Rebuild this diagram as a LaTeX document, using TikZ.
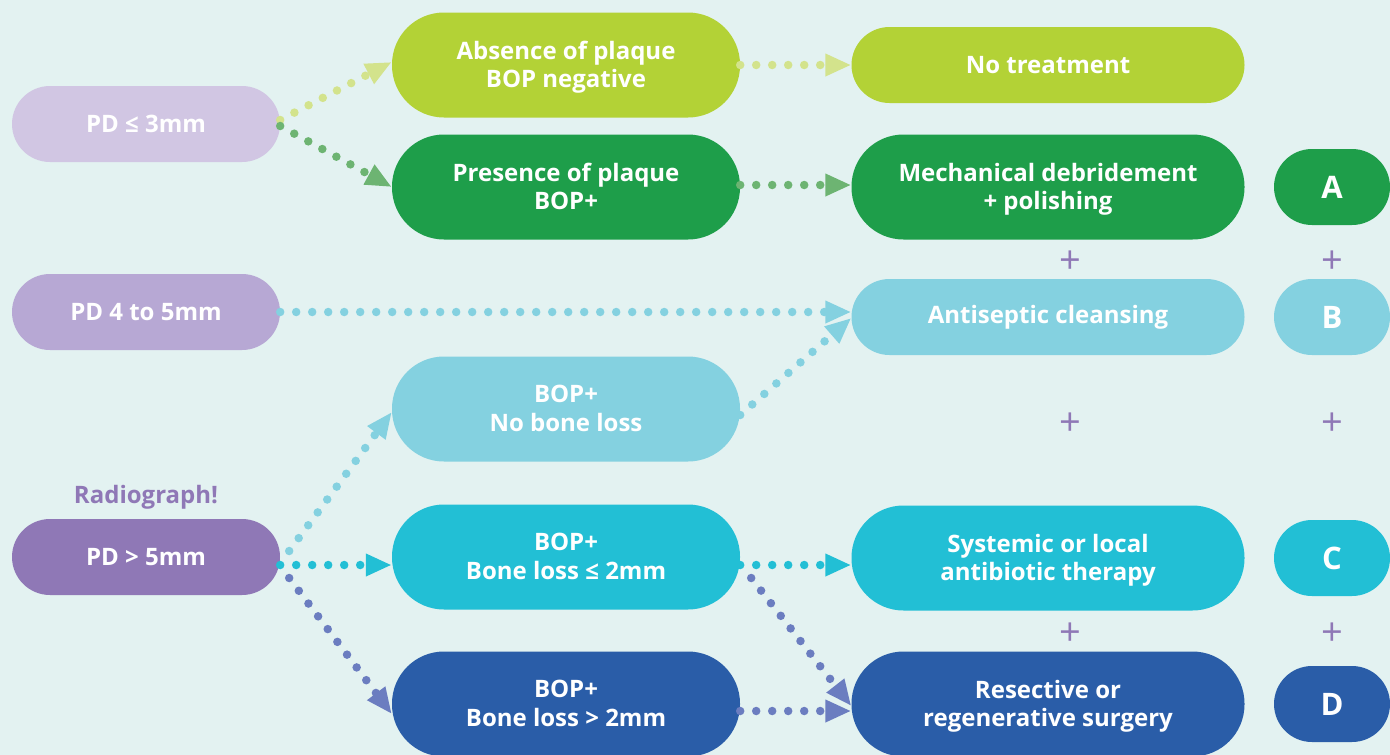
\documentclass[tikz,border=0pt]{standalone}
\usepackage{fontspec}
\setmainfont{Open Sans}
\usetikzlibrary{arrows.meta,calc}
\definecolor{bg}{HTML}{E3F2F1}
\definecolor{lavA}{HTML}{D1C6E3}
\definecolor{lavB}{HTML}{B7A8D4}
\definecolor{lavC}{HTML}{8F78B6}
\definecolor{lime}{HTML}{B3D236}
\definecolor{limeL}{HTML}{D3E38C}
\definecolor{grn}{HTML}{1E9E4A}
\definecolor{grnL}{HTML}{6DB472}
\definecolor{ltblue}{HTML}{84D1E0}
\definecolor{cyanB}{HTML}{22BFD5}
\definecolor{dkblue}{HTML}{2A5DA8}
\definecolor{dkblueL}{HTML}{6B7DC0}
\tikzset{
  pill/.style={rectangle, rounded corners=#1, text=white, align=center,
    font=\fontsize{24}{28.5}\selectfont\bfseries, inner sep=0pt},
  pillS/.style={pill=38pt, minimum height=76pt},
  pillL/.style={pill=52pt, minimum height=105pt, text depth=1pt},
  letter/.style={pillS, minimum width=116pt, font=\fontsize{31}{31}\selectfont\bfseries},
  arr/.style={line width=8.5pt, line cap=round, dash pattern=on 0pt off 16pt,
    -{Triangle[length=26pt,width=21pt]}},
  plus/.style={text=lavC, font=\fontsize{38}{38}\selectfont, inner sep=0pt},
}
\begin{document}
\begin{tikzpicture}[x=1pt,y=-1pt]
\fill[bg] (0,0) rectangle (1390,755);
\useasboundingbox (0,0) rectangle (1390,755);
% left column
\node[pillS, fill=lavA, minimum width=268pt] (pd3) at (146,124) {PD ≤ 3mm};
\node[pillS, fill=lavB, minimum width=268pt] (pd45) at (146,312) {PD 4 to 5mm};
\node[pillS, fill=lavC, minimum width=268pt] (pd5) at (146,557) {PD > 5mm};
\node[text=lavC, font=\fontsize{24}{28}\selectfont\bfseries] (radio) at (146,497) {Radiograph!};
% middle column
\node[pillL, fill=lime, minimum width=348pt] (abs) at (566,65) {Absence of plaque\\BOP negative};
\node[pillL, fill=grn, minimum width=348pt] (pres) at (566,187) {Presence of plaque\\BOP+};
\node[pillL, fill=ltblue, minimum width=348pt] (nob) at (566,409) {BOP+\\No bone loss};
\node[pillL, fill=cyanB, minimum width=348pt] (bl2) at (566,557) {BOP+\\Bone loss ≤ 2mm};
\node[pillL, fill=dkblue, minimum width=348pt] (bl3) at (566,704) {BOP+\\Bone loss > 2mm};
% right column
\node[pillS, fill=lime, minimum width=393pt] (notr) at (1048,65) {No treatment};
\node[pillL, fill=grn, minimum width=393pt] (mech) at (1048,187) {Mechanical debridement\\+ polishing};
\node[pillS, fill=ltblue, minimum width=393pt] (anti) at (1048,317) {Antiseptic cleansing};
\node[pillL, fill=cyanB, minimum width=393pt] (sys) at (1048,558) {Systemic or local\\antibiotic therapy};
\node[pillL, fill=dkblue, minimum width=393pt] (res) at (1048,704) {Resective or\\regenerative surgery};
% letters
\node[letter, fill=grn] (A) at (1332,187) {A};
\node[letter, fill=ltblue] (B) at (1332,317) {B};
\node[letter, fill=cyanB] (C) at (1332,558) {C};
\node[letter, fill=dkblue] (D) at (1332,704) {D};
% plus signs
\node[plus] (p1) at (1070,262) {+};
\node[plus] (p2) at (1332,262) {+};
\node[plus] (p3) at (1070,424) {+};
\node[plus] (p4) at (1332,424) {+};
\node[plus] (p5) at (1070,634) {+};
\node[plus] (p6) at (1332,634) {+};
% connectors
\draw[arr, limeL] ([yshift=4pt]pd3.east) -- ([yshift=3pt]abs.west);
\draw[arr, grnL] ([yshift=-2pt]pd3.east) -- (pres.west);
\draw[arr, limeL] (abs.east) -- (notr.west);
\draw[arr, grnL] ([yshift=2pt]pres.east) -- ([yshift=2pt]mech.west);
\draw[arr, ltblue] (pd45.east) -- (pd45.east -| anti.west);
\draw[arr, ltblue] ([yshift=-6pt]nob.east) -- ([yshift=-1pt]anti.west);
\draw[arr, ltblue] ([xshift=9pt,yshift=6pt]pd5.east) -- ([yshift=-3pt]nob.west);
\draw[arr, cyanB] ([yshift=-8pt]pd5.east) -- ([yshift=-8pt]bl2.west);
\draw[arr, dkblueL] ([xshift=9pt,yshift=-21pt]pd5.east) -- ([yshift=-10pt]bl3.west);
\draw[arr, cyanB] ([yshift=-8pt]bl2.east) -- ([yshift=-7pt]sys.west);
\draw[arr, dkblueL] ([xshift=11pt,yshift=-21pt]bl2.east) -- ([yshift=-2pt]res.west);
\draw[arr, dkblueL] ([yshift=-7pt]bl3.east) -- ([yshift=-7pt]res.west);
\end{tikzpicture}
\end{document}
